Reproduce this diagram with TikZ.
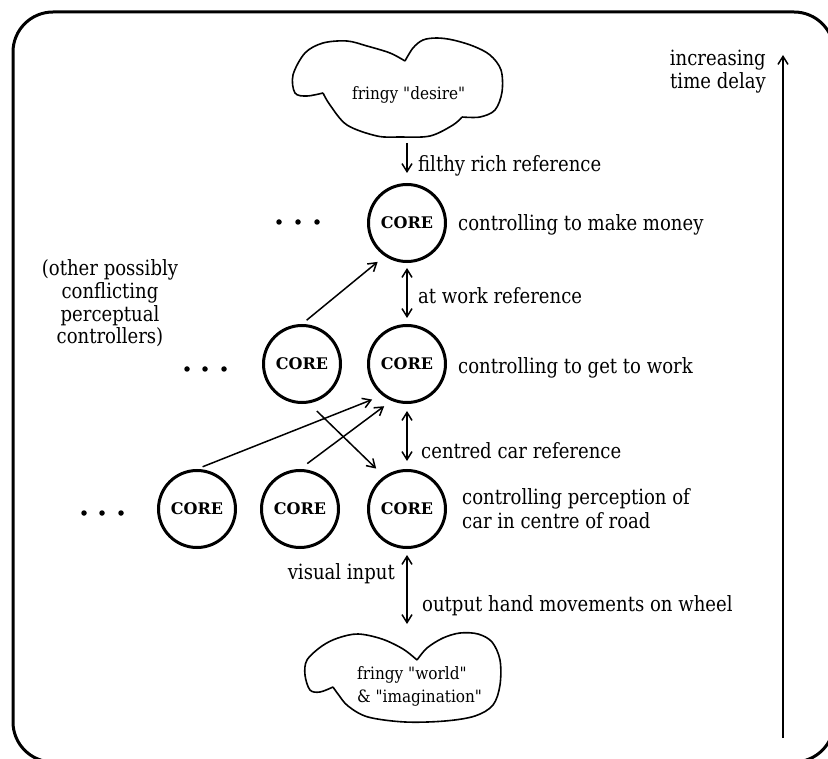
\documentclass[tikz,border=0pt]{standalone}
\usepackage{fontspec}
\setmainfont{DejaVu Serif}[FakeStretch=0.86]
\newfontfamily\corefont{DejaVu Serif Bold}
\newfontfamily\cloudfont{DejaVu Serif}[FakeStretch=0.9]
\usetikzlibrary{arrows.meta}

\tikzset{
  lbl/.style={inner sep=0pt, font=\fontsize{21}{24}\selectfont},
  cloudtxt/.style={inner sep=0pt, font=\cloudfont\fontsize{17}{23}\selectfont},
  core/.style={circle, draw, line width=3pt, minimum size=77pt, inner sep=0pt,
               font=\corefont\fontsize{16}{16}\selectfont},
  arr/.style={line width=1.5pt, -{Straight Barb[length=8pt,width=10pt]}},
  dbl/.style={line width=1.5pt,
              {Straight Barb[length=8pt,width=10pt]}-{Straight Barb[length=8pt,width=10pt]}},
  dotmark/.style={circle, fill, inner sep=0pt, minimum size=5.5pt},
  cloudline/.style={line width=1.6pt, line join=round},
  frame/.style={line width=3pt, rounded corners=40pt},
}

\begin{document}
\begin{tikzpicture}[x=1pt, y=-1pt]
\useasboundingbox (0,0) rectangle (828,759);

% outer rounded frame (runs past the page edge on the right and bottom)
\draw[frame] (13,12) rectangle (834,762);

% controller units
\node[core] (top)  at (407,223) {CORE};
\node[core] (midL) at (302,364) {CORE};
\node[core] (midR) at (407,364) {CORE};
\node[core] (botL) at (197,509) {CORE};
\node[core] (botM) at (300,509) {CORE};
\node[core] (botR) at (407,509) {CORE};

% "more of the same" dots
\node[dotmark] (t1) at (279,222) {};
\node[dotmark] (t2) at (298,222) {};
\node[dotmark] (t3) at (317,222) {};
\node[dotmark] (m1) at (187,369) {};
\node[dotmark] (m2) at (205,369) {};
\node[dotmark] (m3) at (224,369) {};
\node[dotmark] (b1) at (84,513) {};
\node[dotmark] (b2) at (102,513) {};
\node[dotmark] (b3) at (121,513) {};

% upper cloud
\draw[cloudline] plot[smooth, tension=0.55] coordinates {
  (405,61) (413,48) (423,40) (437,38) (453,40) (473,46) (490,55) (501,70)
  (502,92) (495,110) (480,117) (462,117)};
\draw[cloudline] plot[smooth, tension=0.55] coordinates {
  (462,117) (453,125) (430,136) (400,137) (377,136) (347,125) (330,105)
  (323,93)};
\draw[cloudline] plot[smooth, tension=0.55] coordinates {
  (323,93) (307,96) (295,93) (293,75) (305,53) (323,43) (347,41) (367,46)
  (390,53) (405,61)};
\node[cloudtxt, anchor=base west] (desire) at (352,100) {fringy "desire"};

% lower cloud
\draw[cloudline] plot[smooth, tension=0.55] coordinates {
  (417,660) (427,648) (443,638) (460,633) (478,634) (492,642) (500,660)
  (500,685) (493,705) (475,716) (445,721) (405,722) (368,717) (348,706)
  (338,694) (333,687)};
\draw[cloudline] plot[smooth, tension=0.55] coordinates {
  (333,687) (320,692) (310,690) (305,675) (307,660) (322,646) (338,638)
  (358,634) (382,639) (403,649) (417,660)};
\node[cloudtxt, anchor=base west, align=left] (world) at (357,702)
  {fringy "world"\\ \& "imagination"};

% free ends of the outer connectors
\coordinate (cloudOut) at (407,143);
\coordinate (worldIn)  at (407,624);
\coordinate (delayLo)  at (783,738);
\coordinate (delayHi)  at (783,55);

% vertical reference / perception links
\draw[arr] (cloudOut) -- ([yshift=10pt]top.north);
\draw[dbl, shorten <=5pt, shorten >=6pt] (top) -- (midR);
\draw[dbl, shorten <=7pt, shorten >=8pt] (midR) -- (botR);
\draw[dbl, shorten <=6pt] (botR) -- (worldIn);

% cross links between levels
\draw[arr, shorten <=6pt, shorten >=9pt] (midL.north) -- (top.236);
\draw[arr, shorten <=6pt, shorten >=11pt] (botL.north) -- (midR.232);
\draw[arr, shorten <=9pt, shorten >=9pt] (botM.north) -- (midR.247);
\draw[arr, shorten <=11pt, shorten >=11pt] (midL.280) -- (botR.125);

% time-delay axis
\draw[arr] (delayLo) -- (delayHi);
\node[lbl, anchor=base east, align=right, font=\fontsize{21}{23}\selectfont]
  (delay) at (766,89) {increasing\\time delay};

% labels
\node[lbl, anchor=base west] (lRich)  at (418,172) {filthy rich reference};
\node[lbl, anchor=base west] (lMoney) at (458,231) {controlling to make money};
\node[lbl, anchor=base west] (lWorkR) at (418,304) {at work reference};
\node[lbl, anchor=base west] (lWork)  at (458,374) {controlling to get to work};
\node[lbl, anchor=base west] (lCarR)  at (421,458) {centred car reference};
\node[lbl, anchor=base west, align=left] (lCar) at (462,528)
  {controlling perception of\\car in centre of road};
\node[lbl, anchor=base east] (lVis)   at (395,579) {visual input};
\node[lbl, anchor=base west] (lOut)   at (422,611) {output hand movements on wheel};
\node[lbl, anchor=base, align=center, font=\fontsize{21}{22.7}\selectfont] (lOther)
  at (110,344) {(other possibly\\conflicting\\perceptual\\controllers)};
\end{tikzpicture}
\end{document}
